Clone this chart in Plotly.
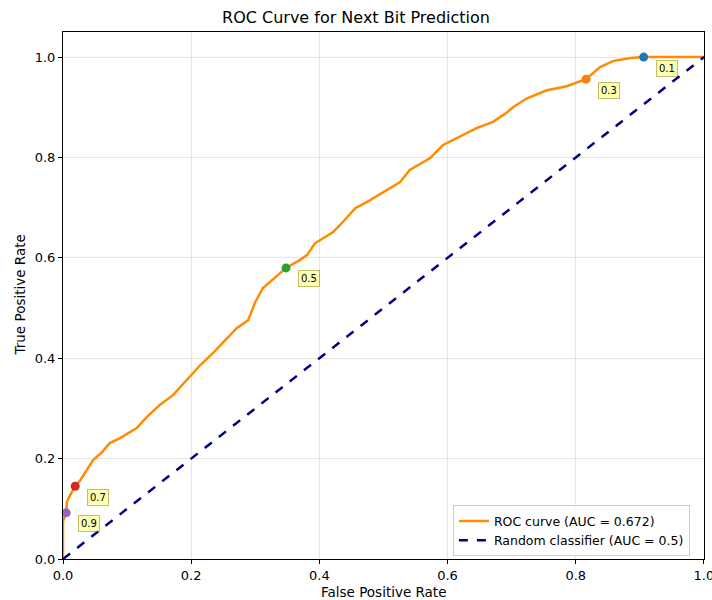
import plotly.graph_objects as go

# ROC curve points
fpr = [0.0, 0.0, 0.0, 0.005, 0.006, 0.011, 0.019, 0.027, 0.047, 0.061, 0.073, 0.089,
       0.115, 0.131, 0.151, 0.172, 0.190, 0.214, 0.234, 0.253, 0.271, 0.289, 0.295,
       0.300, 0.312, 0.326, 0.348, 0.370, 0.381, 0.393, 0.421, 0.432, 0.456, 0.474,
       0.505, 0.526, 0.541, 0.573, 0.593, 0.619, 0.646, 0.671, 0.693, 0.702, 0.724,
       0.755, 0.786, 0.816, 0.827, 0.838, 0.858, 0.885, 0.906, 1.0]
tpr = [0.0, 0.05, 0.075, 0.092, 0.114, 0.127, 0.145, 0.157, 0.197, 0.213, 0.231, 0.241,
       0.261, 0.283, 0.307, 0.327, 0.353, 0.386, 0.410, 0.436, 0.460, 0.476, 0.496,
       0.512, 0.540, 0.556, 0.580, 0.596, 0.606, 0.629, 0.651, 0.665, 0.699, 0.711,
       0.735, 0.751, 0.775, 0.799, 0.825, 0.841, 0.859, 0.871, 0.890, 0.900, 0.918,
       0.934, 0.942, 0.956, 0.968, 0.980, 0.992, 0.998, 1.0, 1.0]

# Threshold markers
thr_labels = ["0.1", "0.3", "0.5", "0.7", "0.9"]
thr_fpr = [0.906, 0.816, 0.348, 0.019, 0.005]
thr_tpr = [1.0, 0.956, 0.580, 0.145, 0.092]
thr_colors = ["#1f77b4", "#ff7f0e", "#2ca02c", "#d62728", "#9467bd"]

auc_value = 0.672
x_ticks = [0.0, 0.2, 0.4, 0.6, 0.8, 1.0]
y_ticks = [0.0, 0.2, 0.4, 0.6, 0.8, 1.0]

fig = go.Figure()
fig.add_trace(go.Scatter(x=fpr, y=tpr, mode="lines",
                         line=dict(color="darkorange", width=2.5),
                         name=f"ROC curve (AUC = {auc_value})"))
fig.add_trace(go.Scatter(x=[0, 1], y=[0, 1], mode="lines",
                         line=dict(color="navy", width=2.5, dash="dash"),
                         name="Random classifier (AUC = 0.5)"))
for lab, x, y, c in zip(thr_labels, thr_fpr, thr_tpr, thr_colors):
    fig.add_trace(go.Scatter(x=[x], y=[y], mode="markers",
                             marker=dict(color=c, size=9), showlegend=False,
                             cliponaxis=False))
    fig.add_annotation(x=x, y=y, text=lab, showarrow=False,
                       xanchor="left", yanchor="middle", xshift=12, yshift=-11,
                       font=dict(size=10, color="black", family="DejaVu Sans"),
                       bgcolor="rgba(255,255,0,0.3)", bordercolor="rgba(128,128,0,0.5)",
                       borderwidth=1, borderpad=2)

axis_common = dict(showline=True, linecolor="black", linewidth=1, mirror=True,
                   ticks="outside", ticklen=4, tickcolor="black",
                   showgrid=True, gridcolor="rgba(0,0,0,0.1)", gridwidth=1,
                   zeroline=False, tickfont=dict(size=13, color="black"),
                   tickformat=".1f", automargin=False, ticklabeloverflow="allow")
fig.update_xaxes(range=[0, 1.0001], tickvals=x_ticks, **axis_common)
fig.update_yaxes(range=[0, 1.05], tickvals=y_ticks, **axis_common)

# axis titles placed as annotations
fig.add_annotation(text="False Positive Rate", xref="paper", yref="paper",
                   x=0.5, y=0, yshift=-33, showarrow=False, yanchor="middle",
                   font=dict(size=13.5, color="black"))
fig.add_annotation(text="True Positive Rate", xref="paper", yref="paper",
                   x=0, y=0.5, xshift=-44, showarrow=False, xanchor="center",
                   textangle=-90, font=dict(size=13.5, color="black"))

fig.update_layout(
    width=712, height=600,
    margin=dict(l=63, r=8, t=32, b=41),
    paper_bgcolor="white", plot_bgcolor="white",
    font=dict(family="DejaVu Sans", color="black"),
    title=dict(text="ROC Curve for Next Bit Prediction", x=0.5, xanchor="center",
               y=0.971, yanchor="middle", font=dict(size=16, color="black")),
    legend=dict(x=0.978, y=0.005, xanchor="right", yanchor="bottom",
                bgcolor="rgba(255,255,255,0.8)", bordercolor="#cccccc", borderwidth=1,
                font=dict(size=12.5, color="black"), tracegroupgap=0,
                itemwidth=30),
)

fig.write_html("out.html", config={"displayModeBar": False},
               post_script="document.body.style.margin='0';document.body.style.overflow='hidden';")
